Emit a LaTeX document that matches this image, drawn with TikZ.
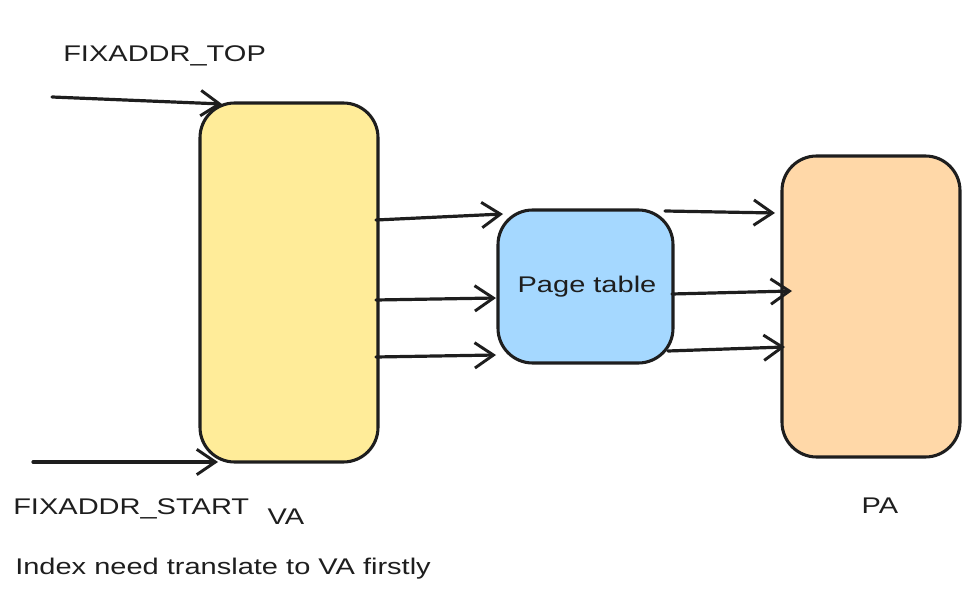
\documentclass[tikz,border=0pt]{standalone}
\usepackage{fontspec}
\setmainfont{Liberation Sans}[FakeStretch=1.28]
\usetikzlibrary{arrows.meta}
\definecolor{vafill}{HTML}{FFEC99}
\definecolor{ptfill}{HTML}{A5D8FF}
\definecolor{pafill}{HTML}{FFD8A8}
\definecolor{ink}{HTML}{1E1E1E}
\tikzset{
  box/.style={draw=ink, line width=2.3pt, rounded corners=26pt},
  conn/.style={draw=ink, line width=2.4pt, line cap=round, -{Straight Barb[length=14pt,width=19pt,line width=2.2pt]}},
  lbl/.style={text=ink, font=\fontsize{17}{20}\selectfont, inner sep=0pt},
}
\begin{document}
\begin{tikzpicture}[x=0.75pt,y=-0.75pt]
\useasboundingbox (0,0) rectangle (974,609);
% boxes
\path[box, fill=vafill] (200,103) rectangle (378,462);
\path[box, fill=ptfill] (498,210) rectangle (673,363);
\path[box, fill=pafill] (782,156) rectangle (960,457);
\node (va) at (289,282) {};
\node (pt) at (585,287) {};
\node (pa) at (871,306) {};
% coordinates for connector ends
\coordinate (t0) at (52,97);   \coordinate (t1) at (222,104);
\coordinate (b0) at (33,462);  \coordinate (b1) at (218,462);
\coordinate (v1) at (376,220); \coordinate (p1) at (503,214);
\coordinate (v2) at (376,300); \coordinate (p2) at (496,298);
\coordinate (v3) at (376,357); \coordinate (p3) at (496,355);
\coordinate (q1) at (665,211); \coordinate (a1) at (775,213);
\coordinate (q2) at (672,294); \coordinate (a2) at (792,291);
\coordinate (q3) at (668,351); \coordinate (a3) at (785,347);
\draw[conn] (t0) -- (t1);
\draw[conn] (b0) -- (b1);
\draw[conn] (v1) -- (p1);
\draw[conn] (v2) -- (p2);
\draw[conn] (v3) -- (p3);
\draw[conn] (q1) -- (a1);
\draw[conn] (q2) -- (a2);
\draw[conn] (q3) -- (a3);
% labels
\node[lbl] (ptl) at (587,287) {Page table};
\node[lbl, anchor=west] (top) at (63,56) {FIXADDR\_TOP};
\node[lbl, anchor=west] (start) at (13,509) {FIXADDR\_START};
\node[lbl] (val) at (286,517) {VA};
\node[lbl] (pal) at (880,506) {PA};
\node[lbl, anchor=west] (note) at (15,569) {Index need translate to VA firstly};
\end{tikzpicture}
\end{document}
